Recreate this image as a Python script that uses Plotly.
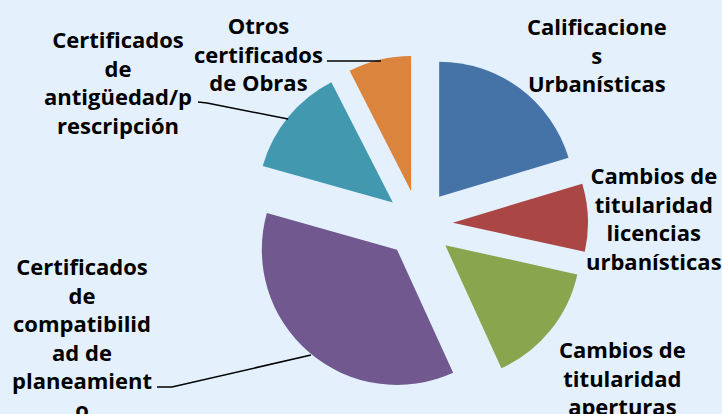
import plotly.graph_objects as go

# ---- data ----
categories = [
    "Calificaciones Urbanísticas",
    "Cambios de titularidad licencias urbanísticas",
    "Cambios de titularidad aperturas",
    "Certificados de compatibilidad de planeamiento",
    "Certificados de antigüedad/prescripción",
    "Otros certificados de Obras",
]
label_texts = [
    "Calificacione<br>s<br>Urbanísticas",
    "Cambios de<br>titularidad<br>licencias<br>urbanísticas",
    "Cambios de<br>titularidad<br>aperturas",
    "Certificados<br>de<br>compatibilid<br>ad de<br>planeamient<br>o",
    "Certificados<br>de<br>antigüedad/p<br>rescripción",
    "Otros<br>certificados<br>de Obras",
]
values = [20.3, 8.1, 14.7, 36.1, 13.1, 7.5]
colors = ["#4572A7", "#AA4643", "#89A54E", "#71588F", "#4198AF", "#DB843D"]

# ---- layout helpers (pixel -> paper) ----
W, H = 722, 414
BG = "#E4F1FD"
def px(x):
    return x / W
def py(y):
    return 1 - y / H

CX, CY, HALF = 419, 224, 169  # pie centre and half domain size (pixels)

fig = go.Figure()
fig.add_trace(go.Pie(
    labels=categories,
    values=values,
    sort=False,
    direction="clockwise",
    rotation=0,
    pull=0.25,
    marker=dict(colors=colors, line=dict(width=0)),
    textinfo="none",
    hoverinfo="skip",
    showlegend=False,
    domain=dict(x=[px(CX - HALF), px(CX + HALF)], y=[py(CY + HALF), py(CY - HALF)]),
))

label_pos = [(597, 54), (654, 218), (622, 377), (82, 337), (118, 82), (258, 53)]
font = dict(family="Open Sans", size=22, color="#000000", weight="bold")
for txt, (x, y) in zip(label_texts, label_pos):
    fig.add_annotation(
        x=px(x), y=py(y), xref="paper", yref="paper",
        text=txt, showarrow=False, xanchor="center", yanchor="middle",
        align="center", font=font,
    )

leader_lines = [
    [(327, 61), (381, 61)],
    [(198, 102), (207, 103), (288, 119)],
    [(157, 387), (172, 387), (311, 355)],
]
for pts in leader_lines:
    path = "M " + " L ".join(f"{px(x)},{py(y)}" for x, y in pts)
    fig.add_shape(type="path", path=path, xref="paper", yref="paper",
                  line=dict(color="#000000", width=1.5))

fig.update_layout(
    width=W, height=H,
    margin=dict(l=0, r=0, t=0, b=0),
    paper_bgcolor=BG,
    plot_bgcolor=BG,
)
fig.write_html(
    "out.html",
    config={"displayModeBar": False},
    post_script=f"document.body.style.margin='0';document.body.style.background='{BG}';",
)
